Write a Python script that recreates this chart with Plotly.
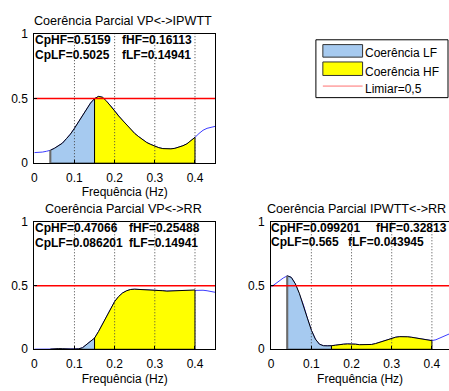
import plotly.graph_objects as go

W, H = 449, 391

freq = [0.00, 0.01, 0.02, 0.03, 0.04, 0.05, 0.06, 0.07, 0.08, 0.09,
        0.10, 0.11, 0.12, 0.13, 0.14, 0.15, 0.16, 0.17, 0.18, 0.19,
        0.20, 0.21, 0.22, 0.23, 0.24, 0.25, 0.26, 0.27, 0.28, 0.29,
        0.30, 0.31, 0.32, 0.33, 0.34, 0.35, 0.36, 0.37, 0.38, 0.39,
        0.40, 0.41, 0.42, 0.43, 0.44, 0.45]

coh_vp_ipwtt = [0.082, 0.083, 0.086, 0.092, 0.100, 0.115, 0.135, 0.155, 0.190, 0.225,
                0.270, 0.320, 0.375, 0.420, 0.465, 0.500, 0.517, 0.510, 0.480, 0.445,
                0.405, 0.365, 0.330, 0.295, 0.260, 0.230, 0.205, 0.180, 0.160, 0.145,
                0.130, 0.120, 0.113, 0.110, 0.111, 0.115, 0.123, 0.135, 0.150, 0.172,
                0.200, 0.230, 0.255, 0.270, 0.280, 0.285]

coh_vp_rr = [0.001, 0.001, 0.001, 0.001, 0.001, 0.004, 0.005, 0.004, 0.001, 0.001,
             0.001, 0.003, 0.012, 0.035, 0.060, 0.088, 0.140, 0.200, 0.265, 0.325,
             0.375, 0.415, 0.443, 0.460, 0.470, 0.472, 0.471, 0.470, 0.465, 0.462,
             0.461, 0.460, 0.460, 0.457, 0.458, 0.460, 0.461, 0.462, 0.463, 0.465,
             0.466, 0.466, 0.464, 0.460, 0.455, 0.448]

coh_ipwtt_rr = [0.490, 0.515, 0.540, 0.560, 0.577, 0.565, 0.515, 0.440, 0.350, 0.245,
                0.150, 0.080, 0.040, 0.028, 0.027, 0.028, 0.032, 0.038, 0.040, 0.042,
                0.043, 0.040, 0.036, 0.035, 0.036, 0.038, 0.045, 0.055, 0.066, 0.078,
                0.088, 0.095, 0.099, 0.100, 0.098, 0.094, 0.088, 0.081, 0.075, 0.070,
                0.068, 0.075, 0.090, 0.105, 0.118, 0.130]

lf_band = [0.04, 0.15]
hf_band = [0.15, 0.40]
threshold = 0.5
x_ticks = [0, 0.1, 0.2, 0.3, 0.4]
x_tick_text = ["0", "0.1", "0.2", "0.3", "0.4"]
y_ticks = [0, 0.5, 1]
y_tick_text = ["0", "0.5", "1"]

titles = ["Coerência Parcial VP<->IPWTT", "Coerência Parcial VP<->RR", "Coerência Parcial IPWTT<->RR"]
stats_left = [["CpHF=0.5159", "CpLF=0.5025"], ["CpHF=0.47066", "CpLF=0.086201"], ["CpHF=0.099201", "CpLF=0.565"]]
stats_right = [["fHF=0.16113", "fLF=0.14941"], ["fHF=0.25488", "fLF=0.14941"], ["fHF=0.32813", "fLF=0.043945"]]
legend_labels = ["Coerência LF", "Coerência HF", "Limiar=0,5"]
x_label = "Frequência (Hz)"

LF_COLOR = "#a6caf0"
HF_COLOR = "#ffff00"
LINE_BLUE = "#3c3cff"
FONT = "Liberation Sans"

def px(x):
    return x / W

def py(y):
    return 1 - y / H

# panel geometry in pixels: (left, right, top, bottom, xmax, title centre x)
panels = [
    (31.5, 213.5, 28.0, 162.0, 0.45, 121.0),
    (31.5, 213.5, 223.0, 355.0, 0.45, 121.0),
    (270.0, 449.0, 223.0, 355.0, 0.45 * (179.0 / 182.0), 356.0),
]
series = [coh_vp_ipwtt, coh_vp_rr, coh_ipwtt_rr]

fig = go.Figure()
layout = dict(width=W, height=H, margin=dict(l=0, r=0, t=0, b=0),
              paper_bgcolor="white", plot_bgcolor="white", showlegend=False,
              font=dict(family=FONT, size=12, color="black"))

annotations = []
shapes = []

for i, (l, r, t, b, xmax, tcx) in enumerate(panels):
    k = "" if i == 0 else str(i + 1)
    xa, ya = "x" + k, "y" + k
    layout["xaxis" + k] = dict(domain=[px(l), px(r)], range=[0, xmax], anchor=ya,
                               tickvals=x_ticks, ticktext=x_tick_text, ticks="inside",
                               ticklen=3, tickcolor="black", showgrid=False, zeroline=False,
                               showline=True, linecolor="black", linewidth=1, mirror=True,
                               ticklabelstandoff=3,
                               tickfont=dict(size=12, family=FONT),
                               title=dict(text=x_label, font=dict(size=12, family=FONT), standoff=4))
    layout["yaxis" + k] = dict(domain=[py(b), py(t)], range=[0, 1], anchor=xa,
                               tickvals=y_ticks, ticktext=y_tick_text, ticks="inside",
                               ticklen=3, tickcolor="black", showgrid=False, zeroline=False,
                               showline=True, linecolor="black", linewidth=1,
                               ticklabelstandoff=3,
                               mirror=(i != 2), tickfont=dict(size=12, family=FONT))
    vals = series[i]
    # whole coherence curve
    fig.add_trace(go.Scatter(x=freq, y=vals, mode="lines", xaxis=xa, yaxis=ya,
                             line=dict(color=LINE_BLUE, width=1), hoverinfo="skip"))
    # bands
    for band, col in ((lf_band, LF_COLOR), (hf_band, HF_COLOR)):
        bx = [f for f in freq if band[0] - 1e-9 <= f <= band[1] + 1e-9]
        by = [v for f, v in zip(freq, vals) if band[0] - 1e-9 <= f <= band[1] + 1e-9]
        fig.add_trace(go.Scatter(x=[bx[0]] + bx + [bx[-1], bx[0]], y=[0] + by + [0, 0],
                                 mode="lines", fill="toself", fillcolor=col,
                                 xaxis=xa, yaxis=ya, line=dict(color="black", width=1),
                                 hoverinfo="skip"))
        if band is lf_band:
            fig.add_trace(go.Scatter(x=[bx[0], bx[0]], y=[0, by[0]], mode="lines",
                                     xaxis=xa, yaxis=ya, line=dict(color="#6a6a6a", width=2),
                                     hoverinfo="skip"))
    # dotted grid on top
    for xv in x_ticks[1:]:
        fig.add_trace(go.Scatter(x=[xv, xv], y=[0, 1], mode="lines", xaxis=xa, yaxis=ya,
                                 line=dict(color="#444444", width=1, dash="1px,2px"),
                                 hoverinfo="skip"))
    # threshold
    fig.add_trace(go.Scatter(x=[0, 0.45], y=[threshold, threshold], mode="lines",
                             xaxis=xa, yaxis=ya, line=dict(color="#ff0000", width=1.5),
                             hoverinfo="skip"))
    # title
    annotations.append(dict(text=titles[i], x=px(tcx), y=py(t - 13),
                            xref="paper", yref="paper", showarrow=False,
                            xanchor="center", yanchor="middle",
                            font=dict(size=12.6, family=FONT)))

# stats text positions: (x_left, x_right, y1, y2)
stat_pos = [(30, 118, 34, 50), (30, 125, 229, 245), (268, 373, 229, 244)]
stat_pos2 = [118, 125, 345]
for i, (xl, xr, y1, y2) in enumerate(stat_pos):
    for j, yy in enumerate((y1, y2)):
        annotations.append(dict(text="<b>" + stats_left[i][j] + "</b>", x=px(xl), y=py(yy),
                                xref="paper", yref="paper", showarrow=False,
                                xanchor="left", yanchor="middle",
                                font=dict(size=12, family=FONT)))
        xrr = xr if j == 0 else stat_pos2[i]
        annotations.append(dict(text="<b>" + stats_right[i][j] + "</b>", x=px(xrr), y=py(yy),
                                xref="paper", yref="paper", showarrow=False,
                                xanchor="left", yanchor="middle",
                                font=dict(size=12, family=FONT)))

# legend box
shapes.append(dict(type="rect", xref="paper", yref="paper", x0=px(315), x1=px(448),
                   y0=py(94), y1=py(34), fillcolor="white", line=dict(color="black", width=1)))
shapes.append(dict(type="rect", xref="paper", yref="paper", x0=px(322), x1=px(362),
                   y0=py(52), y1=py(39), fillcolor=LF_COLOR, line=dict(color="#333333", width=1)))
shapes.append(dict(type="rect", xref="paper", yref="paper", x0=px(322), x1=px(362),
                   y0=py(71), y1=py(57), fillcolor=HF_COLOR, line=dict(color="#333333", width=1)))
shapes.append(dict(type="line", xref="paper", yref="paper", x0=px(322), x1=px(362),
                   y0=py(82), y1=py(82), line=dict(color="#ff7070", width=1)))
for lab, yy in zip(legend_labels, (48, 67, 85)):
    annotations.append(dict(text=lab, x=px(362), y=py(yy), xref="paper", yref="paper",
                            showarrow=False, xanchor="left", yanchor="middle",
                            font=dict(size=12, family=FONT)))

layout["annotations"] = annotations
layout["shapes"] = shapes
fig.update_layout(**layout)
fig.write_html("out.html", config={"displayModeBar": False},
               post_script="document.body.style.margin='0';document.body.style.overflow='hidden';")
